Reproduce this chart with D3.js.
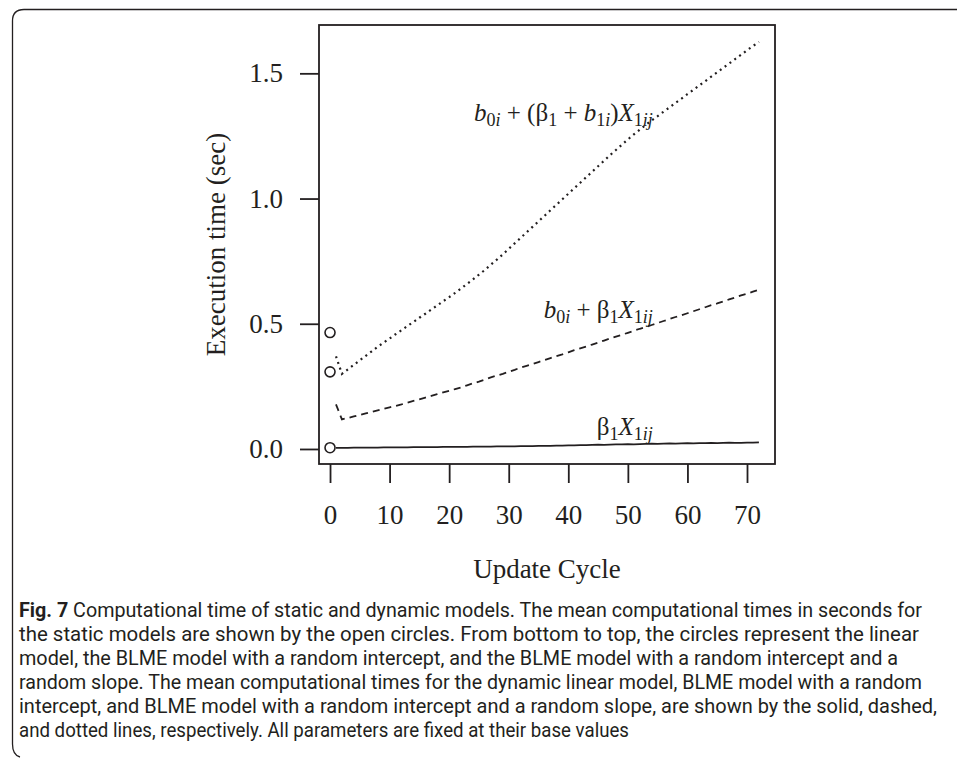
<!DOCTYPE html>
<html>
<head>
<meta charset="utf-8">
<script src="https://cdn.jsdelivr.net/npm/d3@7"></script>
<style>
  body { margin: 0; background: #fff; }
  svg { display: block; }
  .caption { font-family: Roboto, "Open Sans", "DejaVu Sans", sans-serif; }
</style>
</head>
<body>
<svg id="chart" width="957" height="761"></svg>
<script>
// static model times (cycle 0), bottom to top
const staticTimes = [0.005, 0.308, 0.465];

// update cycles 1..72
const cycles = d3.range(1, 73);

// dynamic linear model (solid)
const solidTimes = [
  0.004, 0.004, 0.004, 0.005, 0.005, 0.005, 0.005, 0.005, 0.006, 0.006,
  0.006, 0.006, 0.006, 0.007, 0.007, 0.007, 0.007, 0.007, 0.008, 0.008,
  0.008, 0.008, 0.008, 0.009, 0.009, 0.009, 0.009, 0.010, 0.010, 0.010,
  0.010, 0.011, 0.011, 0.011, 0.012, 0.012, 0.012, 0.013, 0.013, 0.014,
  0.014, 0.015, 0.015, 0.016, 0.017, 0.016, 0.017, 0.018, 0.018, 0.019,
  0.018, 0.019, 0.020, 0.021, 0.020, 0.021, 0.022, 0.021, 0.022, 0.023,
  0.022, 0.023, 0.023, 0.024, 0.023, 0.024, 0.025, 0.024, 0.024, 0.025,
  0.025, 0.026
];

// BLME random intercept (dashed)
const dashedTimes = [
  0.178, 0.118, 0.124, 0.130, 0.136, 0.142, 0.148, 0.154, 0.160, 0.166,
  0.172, 0.178, 0.185, 0.192, 0.198, 0.205, 0.212, 0.219, 0.226, 0.232,
  0.239, 0.246, 0.254, 0.262, 0.269, 0.277, 0.286, 0.293, 0.300, 0.308,
  0.316, 0.325, 0.332, 0.339, 0.347, 0.355, 0.363, 0.371, 0.378, 0.386,
  0.395, 0.402, 0.409, 0.417, 0.425, 0.433, 0.441, 0.449, 0.456, 0.464,
  0.472, 0.480, 0.487, 0.495, 0.503, 0.511, 0.519, 0.527, 0.534, 0.542,
  0.550, 0.558, 0.566, 0.574, 0.581, 0.589, 0.597, 0.605, 0.613, 0.620,
  0.628, 0.636
];

// BLME random intercept + slope (dotted)
const dottedTimes = [
  0.370, 0.300, 0.318, 0.336, 0.354, 0.372, 0.390, 0.408, 0.425, 0.441,
  0.458, 0.474, 0.491, 0.507, 0.524, 0.540, 0.557, 0.573, 0.590, 0.606,
  0.623, 0.641, 0.659, 0.677, 0.696, 0.715, 0.736, 0.756, 0.777, 0.799,
  0.821, 0.843, 0.865, 0.887, 0.909, 0.931, 0.953, 0.975, 0.997, 1.019,
  1.041, 1.063, 1.085, 1.107, 1.129, 1.151, 1.173, 1.194, 1.215, 1.236,
  1.256, 1.275, 1.294, 1.312, 1.329, 1.347, 1.364, 1.382, 1.399, 1.417,
  1.434, 1.452, 1.469, 1.487, 1.504, 1.522, 1.539, 1.557, 1.574, 1.592,
  1.609, 1.626
];

const xTicks = [0, 10, 20, 30, 40, 50, 60, 70];
const yTicks = [0.0, 0.5, 1.0, 1.5];

const captionLines = [
  "Computational time of static and dynamic models. The mean computational times in seconds for",
  "the static models are shown by the open circles. From bottom to top, the circles represent the linear",
  "model, the BLME model with a random intercept, and the BLME model with a random intercept and a",
  "random slope. The mean computational times for the dynamic linear model, BLME model with a random",
  "intercept, and BLME model with a random intercept and a random slope, are shown by the solid, dashed,",
  "and dotted lines, respectively. All parameters are fixed at their base values"
];
// right end of each caption line in the reference
const captionEnds = [922, 919, 898, 922, 937, 629];

const ink = "#231f20";
const serif = '"Liberation Serif", "DejaVu Serif", serif';

const svg = d3.select("#chart");

// outer figure frame (rounded on the left, open on the right)
svg.append("path")
  .attr("d", "M957,9.5 L24,9.5 Q12.5,9.5 12.5,21 L12.5,744 Q12.5,755 20,757")
  .attr("fill", "none")
  .attr("stroke", ink)
  .attr("stroke-width", 1.3);

const x = d3.scaleLinear().domain([-1.85, 74.7]).range([319, 775]);
const y = d3.scaleLinear().domain([-0.06, 1.693]).range([464, 25]);

// plot box
svg.append("rect")
  .attr("x", x.range()[0]).attr("y", y.range()[1])
  .attr("width", x.range()[1] - x.range()[0])
  .attr("height", y.range()[0] - y.range()[1])
  .attr("fill", "none").attr("stroke", ink).attr("stroke-width", 1.8);

// axes
const xAxis = svg.append("g")
  .attr("transform", `translate(0,${y.range()[0]})`)
  .call(d3.axisBottom(x).tickValues(xTicks).tickSize(19).tickPadding(22).tickFormat(d3.format("d")));
const yAxis = svg.append("g")
  .attr("transform", `translate(${x.range()[0]},0)`)
  .call(d3.axisLeft(y).tickValues(yTicks).tickSize(19).tickPadding(17).tickFormat(d3.format(".1f")));

[xAxis, yAxis].forEach((g) => {
  g.select(".domain").remove();
  g.selectAll(".tick line").attr("stroke", ink).attr("stroke-width", 1.8);
  g.selectAll(".tick text")
    .attr("fill", ink)
    .style("font-family", serif)
    .style("font-size", "27px");
});

// axis titles
svg.append("text")
  .attr("x", (x.range()[0] + x.range()[1]) / 2)
  .attr("y", 578)
  .attr("text-anchor", "middle")
  .attr("fill", ink)
  .style("font-family", serif)
  .style("font-size", "27px")
  .text("Update Cycle");

svg.append("text")
  .attr("transform", `translate(225,${(y.range()[0] + y.range()[1]) / 2}) rotate(-90)`)
  .attr("text-anchor", "middle")
  .attr("fill", ink)
  .style("font-family", serif)
  .style("font-size", "27px")
  .text("Execution time (sec)");

// lines
const line = d3.line()
  .x((d) => x(d[0]))
  .y((d) => y(d[1]));

const series = [
  { values: solidTimes, dash: null, width: 1.8 },
  { values: dashedTimes, dash: "7,5", width: 1.8 },
  { values: dottedTimes, dash: "2,4", width: 2.2 }
];

series.forEach((s) => {
  svg.append("path")
    .datum(cycles.map((c, i) => [c, s.values[i]]))
    .attr("d", line)
    .attr("fill", "none")
    .attr("stroke", ink)
    .attr("stroke-width", s.width)
    .attr("stroke-dasharray", s.dash);
});

// static model circles
svg.selectAll("circle.static")
  .data(staticTimes)
  .enter()
  .append("circle")
  .attr("class", "static")
  .attr("cx", x(0))
  .attr("cy", (d) => y(d))
  .attr("r", 5)
  .attr("fill", "#fff")
  .attr("stroke", ink)
  .attr("stroke-width", 1.6);

// curve labels, right-aligned; parts: text, sub (subscript), it (italic)
const labels = [
  { at: [54.2, 1.309], parts: [
    { t: "b", it: 1 }, { t: "0", sub: 1 }, { t: "i", sub: 1, it: 1 }, { t: " + (" },
    { t: "β" }, { t: "1", sub: 1 }, { t: " + " }, { t: "b", it: 1 }, { t: "1", sub: 1 },
    { t: "i", sub: 1, it: 1 }, { t: ")" }, { t: "X", it: 1 }, { t: "1", sub: 1 }, { t: "ij", sub: 1, it: 1 }
  ] },
  { at: [54.2, 0.523], parts: [
    { t: "b", it: 1 }, { t: "0", sub: 1 }, { t: "i", sub: 1, it: 1 }, { t: " + " },
    { t: "β" }, { t: "1", sub: 1 }, { t: "X", it: 1 }, { t: "1", sub: 1 }, { t: "ij", sub: 1, it: 1 }
  ] },
  { at: [54.2, 0.056], parts: [
    { t: "β" }, { t: "1", sub: 1 }, { t: "X", it: 1 }, { t: "1", sub: 1 }, { t: "ij", sub: 1, it: 1 }
  ] }
];

labels.forEach((lab) => {
  const txt = svg.append("text")
    .attr("x", x(lab.at[0]))
    .attr("y", y(lab.at[1]))
    .attr("text-anchor", "end")
    .attr("fill", ink)
    .style("font-family", serif)
    .style("font-size", "25px");
  let shifted = false;
  lab.parts.forEach((p) => {
    const ts = txt.append("tspan").text(p.t);
    if (p.it) ts.style("font-style", "italic");
    if (p.sub) {
      ts.style("font-size", "18px");
      if (!shifted) { ts.attr("dy", 5); shifted = true; }
    } else if (shifted) {
      ts.attr("dy", -5); shifted = false;
    }
  });
});

// caption, one text per line squeezed to the reference widths
captionLines.forEach((l, i) => {
  const t = svg.append("text")
    .attr("class", "caption")
    .attr("x", 19)
    .attr("y", 617 + i * 24)
    .attr("fill", ink)
    .attr("textLength", captionEnds[i] - 19)
    .attr("lengthAdjust", "spacingAndGlyphs")
    .style("font-size", "20px");
  if (i === 0) {
    t.append("tspan").style("font-weight", "bold").text("Fig. 7");
    t.append("tspan").text(" " + l);
  } else {
    t.text(l);
  }
});
</script>
</body>
</html>
